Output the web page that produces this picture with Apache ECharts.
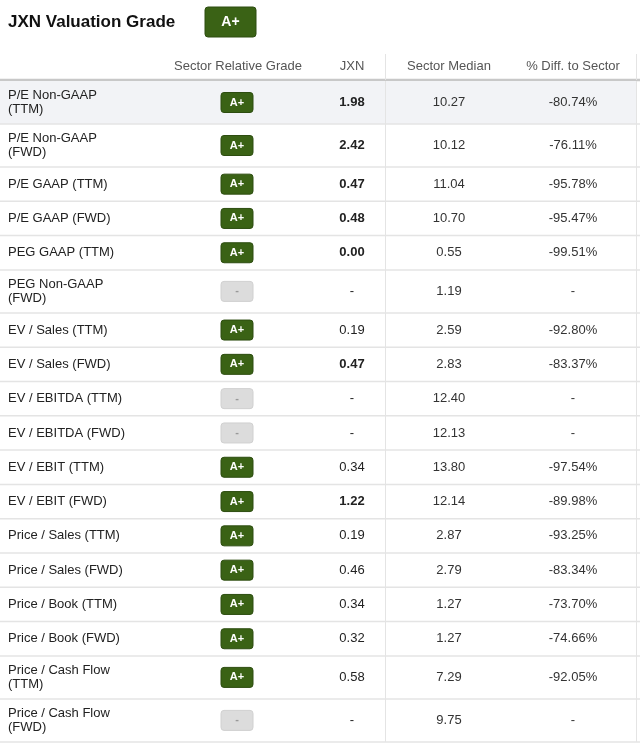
<!DOCTYPE html>
<html><head><meta charset="utf-8">
<script src="https://cdn.jsdelivr.net/npm/echarts@6/dist/echarts.min.js"></script>
<style>html,body{margin:0;background:#fff}#c{width:640px;height:746px}</style>
</head><body><div id="c"></div>
<script>
var metrics = ['P/E Non-GAAP\n(TTM)', 'P/E Non-GAAP\n(FWD)', 'P/E GAAP (TTM)', 'P/E GAAP (FWD)', 'PEG GAAP (TTM)',
  'PEG Non-GAAP\n(FWD)', 'EV / Sales (TTM)', 'EV / Sales (FWD)', 'EV / EBITDA (TTM)', 'EV / EBITDA (FWD)',
  'EV / EBIT (TTM)', 'EV / EBIT (FWD)', 'Price / Sales (TTM)', 'Price / Sales (FWD)', 'Price / Book (TTM)',
  'Price / Book (FWD)', 'Price / Cash Flow\n(TTM)', 'Price / Cash Flow\n(FWD)'];
var grades = ['A+', 'A+', 'A+', 'A+', 'A+', '-', 'A+', 'A+', '-', '-', 'A+', 'A+', 'A+', 'A+', 'A+', 'A+', 'A+', '-'];
var jxn = ['1.98', '2.42', '0.47', '0.48', '0.00', '-', '0.19', '0.47', '-', '-', '0.34', '1.22', '0.19', '0.46', '0.34', '0.32', '0.58', '-'];
var jxnBold = [1, 1, 1, 1, 1, 0, 0, 1, 0, 0, 0, 1, 0, 0, 0, 0, 0, 0];
var sectorMedian = ['10.27', '10.12', '11.04', '10.70', '0.55', '1.19', '2.59', '2.83', '12.40', '12.13', '13.80', '12.14', '2.87', '2.79', '1.27', '1.27', '7.29', '9.75'];
var diffToSector = ['-80.74%', '-76.11%', '-95.78%', '-95.47%', '-99.51%', '-', '-92.80%', '-83.37%', '-', '-', '-97.54%', '-89.98%', '-93.25%', '-83.34%', '-73.70%', '-74.66%', '-92.05%', '-'];
var headers = ['Sector Relative Grade', 'JXN', 'Sector Median', '% Diff. to Sector'];

// row extents: two-line rows are taller
var rows = [];
var y = 0;
metrics.forEach(function (m, i) {
  var h = m.indexOf('\n') >= 0 ? 43 : 34.3;
  rows.push([y, y + h, i]);
  y += h;
});
var total = y;

var chart = echarts.init(document.getElementById('c'));
var font = '"Liberation Sans", Arial, sans-serif';

function renderItem(params, api) {
  var i = api.value(2);
  var p0 = api.coord([0, api.value(0)]);
  var p1 = api.coord([640, api.value(1)]);
  var top = p0[1], bot = p1[1], mid = (top + bot) / 2;
  var kids = [];
  if (i === 0) kids.push({type: 'rect', shape: {x: 0, y: top, width: 636, height: bot - top}, style: {fill: '#f2f3f6'}});
  kids.push({type: 'line', shape: {x1: 0, y1: bot, x2: 640, y2: bot}, style: {stroke: '#e4e4e4', lineWidth: 1.5}});
  [385.5, 636.5].forEach(function (x) {
    kids.push({type: 'line', shape: {x1: x, y1: top, x2: x, y2: bot}, style: {stroke: '#e4e4e4', lineWidth: 1}});
  });
  kids.push({type: 'text', style: {x: 8, y: mid, text: metrics[i], fill: '#222', font: '13px ' + font, verticalAlign: 'middle', lineHeight: 14}});
  var g = grades[i] !== '-';
  kids.push({type: 'rect', shape: {x: 221, y: mid - 10, width: 32, height: 20, r: 3}, style: {fill: g ? '#3a6215' : '#dcdcdc', stroke: g ? '#2d4d10' : '#d0d0d0', lineWidth: 1}});
  kids.push({type: 'text', style: {x: 237, y: mid, text: grades[i], fill: g ? '#fff' : '#999', font: 'bold 11px ' + font, align: 'center', verticalAlign: 'middle'}});
  kids.push({type: 'text', style: {x: 352, y: mid, text: jxn[i], fill: '#222', font: (jxnBold[i] ? 'bold ' : '') + '13px ' + font, align: 'center', verticalAlign: 'middle'}});
  kids.push({type: 'text', style: {x: 449, y: mid, text: sectorMedian[i], fill: '#333', font: '13px ' + font, align: 'center', verticalAlign: 'middle'}});
  kids.push({type: 'text', style: {x: 573, y: mid, text: diffToSector[i], fill: '#333', font: '13px ' + font, align: 'center', verticalAlign: 'middle'}});
  return {type: 'group', children: kids};
}

var headerX = [238, 352, 449, 573];
var graphics = [
  {type: 'text', style: {x: 8, y: 22, text: 'JXN Valuation Grade', fill: '#111', font: 'bold 17px ' + font, verticalAlign: 'middle'}},
  {type: 'rect', shape: {x: 205, y: 7, width: 51, height: 30, r: 3}, style: {fill: '#3a6215', stroke: '#2d4d10'}},
  {type: 'text', style: {x: 230.5, y: 22, text: 'A+', fill: '#fff', font: 'bold 14px ' + font, align: 'center', verticalAlign: 'middle'}},
  {type: 'line', shape: {x1: 0, y1: 80, x2: 640, y2: 80}, style: {stroke: '#c8c8c8', lineWidth: 2.5}},
  {type: 'line', shape: {x1: 385.5, y1: 54, x2: 385.5, y2: 80}, style: {stroke: '#e4e4e4'}},
  {type: 'line', shape: {x1: 636.5, y1: 54, x2: 636.5, y2: 80}, style: {stroke: '#e4e4e4'}}
];
headers.forEach(function (h, k) {
  graphics.push({type: 'text', style: {x: headerX[k], y: 66, text: h, fill: '#555', font: '13px ' + font, align: 'center', verticalAlign: 'middle'}});
});

chart.setOption({
  animation: false,
  grid: {left: 0, right: 0, top: 81, height: total},
  xAxis: {type: 'value', min: 0, max: 640, show: false},
  yAxis: {type: 'value', min: 0, max: total, inverse: true, show: false},
  graphic: graphics,
  series: [{type: 'custom', renderItem: renderItem, data: rows, clip: false}]
});
</script></body></html>
